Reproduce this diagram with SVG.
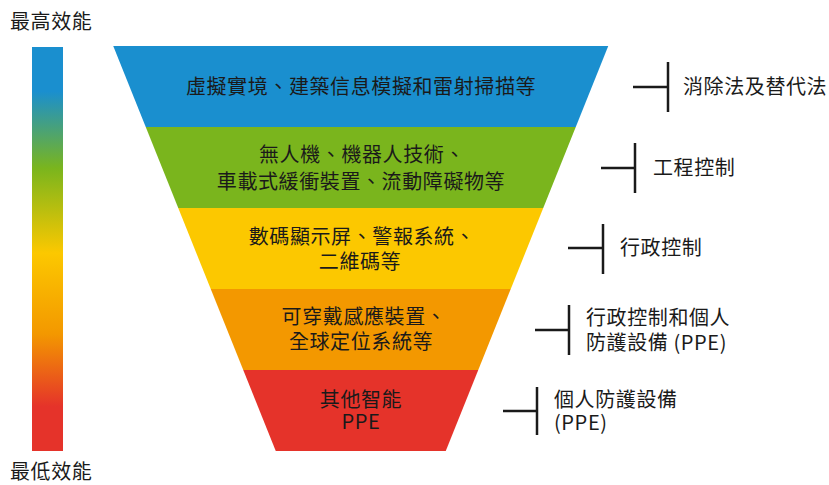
<svg xmlns="http://www.w3.org/2000/svg" width="829" height="485" viewBox="0 0 829 485">
<defs>
<linearGradient id="bar" x1="0" y1="0" x2="0" y2="1">
<stop offset="0.11" stop-color="#1a8fcf"/>
<stop offset="0.30" stop-color="#7ab51d"/>
<stop offset="0.51" stop-color="#fcc800"/>
<stop offset="0.71" stop-color="#f39800"/>
<stop offset="0.89" stop-color="#e5332a"/>
</linearGradient>
<style>
text{font-family:"Noto Sans CJK TC","Noto Sans",sans-serif;font-size:20px;fill:#1a1a1a;letter-spacing:0.6px}
.c{text-anchor:middle}
.br line{stroke:#1a1a1a;stroke-width:2.5}
</style>
</defs>
<rect x="0" y="0" width="829" height="485" fill="#ffffff"/>
<g id="scale">
<rect x="32" y="47" width="31" height="404" fill="url(#bar)"/>
<text x="10" y="29">最高效能</text>
<text x="10" y="479">最低效能</text>
</g>
<g id="elimination">
<polygon points="113.25,46 608.25,46 575.75,127 145.75,127" fill="#1a8fcf"/>
<text class="c" x="361" y="94">虛擬實境、建築信息模擬和雷射掃描等</text>
</g>
<g id="engineering">
<polygon points="145.75,127 575.75,127 543.25,208 178.25,208" fill="#7ab51d"/>
<text class="c"><tspan x="362" y="162">無人機、機器人技術、</tspan><tspan x="361" y="189">車載式緩衝裝置、流動障礙物等</tspan></text>
</g>
<g id="admin">
<polygon points="178.25,208 543.25,208 510.75,289 210.75,289" fill="#fcc800"/>
<text class="c"><tspan x="362" y="244">數碼顯示屏、警報系統、</tspan><tspan x="360" y="269">二維碼等</tspan></text>
</g>
<g id="admin-ppe">
<polygon points="210.75,289 510.75,289 478.25,370 243.25,370" fill="#f39800"/>
<text class="c"><tspan x="364" y="324">可穿戴感應裝置、</tspan><tspan x="361" y="349">全球定位系統等</tspan></text>
</g>
<g id="ppe">
<polygon points="243.25,370 478.25,370 445.75,451 275.75,451" fill="#e5332a"/>
<text class="c"><tspan x="361" y="407">其他智能</tspan><tspan x="361" y="429">PPE</tspan></text>
</g>
<g id="connectors" class="br">
<line x1="633" y1="87" x2="668" y2="87"/><line x1="668" y1="62" x2="668" y2="112"/>
<line x1="601" y1="168" x2="635" y2="168"/><line x1="635" y1="143" x2="635" y2="193"/>
<line x1="568" y1="248" x2="603" y2="248"/><line x1="603" y1="224" x2="603" y2="274"/>
<line x1="535" y1="330" x2="569" y2="330"/><line x1="569" y1="305" x2="569" y2="355"/>
<line x1="503" y1="411" x2="537" y2="411"/><line x1="537" y1="387" x2="537" y2="435"/>
</g>
<g id="label-elimination"><text x="683" y="94">消除法及替代法</text></g>
<g id="label-engineering"><text x="653" y="175">工程控制</text></g>
<g id="label-admin"><text x="620" y="255">行政控制</text></g>
<g id="label-admin-ppe"><text><tspan x="586" y="325">行政控制和個人</tspan><tspan x="586" y="350">防護設備 (PPE)</tspan></text></g>
<g id="label-ppe"><text><tspan x="554" y="407">個人防護設備</tspan><tspan x="554" y="430">(PPE)</tspan></text></g>
</svg>
